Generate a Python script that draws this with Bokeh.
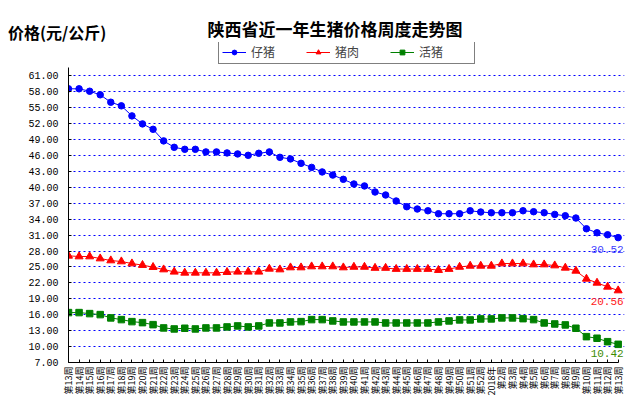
import math
from bokeh.plotting import figure
from bokeh.models import Range1d, FixedTicker, PrintfTickFormatter, Label, Legend, LegendItem, Div
from bokeh.layouts import column
from bokeh.embed import file_html
from bokeh.resources import INLINE

weeks = ["第13周", "第14周", "第15周", "第16周", "第17周", "第18周", "第19周", "第20周",
         "第21周", "第22周", "第23周", "第24周", "第25周", "第26周", "第27周", "第28周",
         "第29周", "第30周", "第31周", "第32周", "第33周", "第34周", "第35周", "第36周",
         "第37周", "第38周", "第39周", "第40周", "第41周", "第42周", "第43周", "第44周",
         "第45周", "第46周", "第47周", "第48周", "第49周", "第50周", "第51周", "第52周",
         "2018年", "第2周", "第3周", "第4周", "第5周", "第6周", "第7周", "第8周",
         "第9周", "第10周", "第11周", "第12周", "第13周"]

piglet = [58.55, 58.55, 58.09, 57.42, 56.02, 55.34, 53.45, 51.94, 50.92, 48.74,
          47.53, 47.15, 47.15, 46.66, 46.66, 46.47, 46.28, 46.02, 46.40, 46.66,
          45.64, 45.34, 44.51, 43.75, 42.89, 42.30, 41.50, 40.62, 40.25, 39.11,
          38.55, 37.42, 36.34, 35.91, 35.58, 35.02, 35.02, 35.02, 35.58, 35.34,
          35.21, 35.21, 35.21, 35.58, 35.40, 35.21, 34.89, 34.64, 34.21, 32.19,
          31.43, 31.06, 30.52]

pork = [27.09, 26.96, 26.96, 26.58, 26.21, 26.02, 25.64, 25.34, 24.96, 24.51,
        24.08, 23.89, 23.89, 23.89, 23.89, 24.02, 24.08, 24.08, 24.08, 24.64,
        24.51, 24.89, 24.89, 25.08, 25.08, 25.08, 24.89, 25.00, 25.00, 24.80,
        24.80, 24.60, 24.60, 24.60, 24.60, 24.40, 24.60, 25.00, 25.20, 25.20,
        25.20, 25.64, 25.64, 25.64, 25.45, 25.45, 25.26, 24.83, 24.26, 22.75,
        22.00, 21.25, 20.56]

live = [16.40, 16.40, 16.21, 16.02, 15.40, 15.08, 14.70, 14.51, 14.13, 13.51,
        13.32, 13.45, 13.32, 13.51, 13.51, 13.70, 13.89, 13.70, 13.89, 14.45,
        14.45, 14.64, 14.70, 15.08, 15.08, 14.83, 14.64, 14.64, 14.64, 14.64,
        14.45, 14.45, 14.45, 14.45, 14.45, 14.64, 14.83, 15.02, 15.02, 15.21,
        15.21, 15.40, 15.40, 15.26, 15.08, 14.45, 14.26, 14.08, 13.45, 11.87,
        11.57, 10.92, 10.42]

series_names = ["仔猪", "猪肉", "活猪"]
y_ticks = [7, 10, 13, 16, 19, 22, 25, 28, 31, 34, 37, 40, 43, 46, 49, 52, 55, 58, 61]
chart_title = "陕西省近一年生猪价格周度走势图"
y_title = "价格(元/公斤)"

x = list(range(len(weeks)))
n = len(weeks)

font_css = "font-family:'Noto Sans CJK SC';font-weight:bold;color:black;white-space:nowrap;"
header = Div(
    text=(
        '<div style="position:relative;width:632px;height:42px;overflow:visible;">'
        '<span style="position:absolute;left:8px;top:24px;font-size:16px;line-height:16px;'
        + font_css + '">' + y_title + '</span>'
        '<span style="position:absolute;left:135px;top:20px;width:400px;text-align:center;'
        'font-size:17px;line-height:17px;' + font_css + '">' + chart_title + '</span></div>'
    ),
    width=632, height=42, margin=0,
)

p = figure(width=632, height=368, output_backend="svg", toolbar_location=None,
           x_range=Range1d(0, n - 1 + 0.6), y_range=Range1d(7, 67.27),
           min_border_left=68, min_border_right=8, min_border_top=0, min_border_bottom=48,
           margin=0)
p.outline_line_color = None
p.background_fill_color = "white"
p.border_fill_color = "white"

p.xgrid.grid_line_color = None
p.ygrid.grid_line_color = "#0000FF"
p.ygrid.grid_line_dash = "2 3"
p.ygrid.grid_line_width = 1
p.ygrid.ticker = FixedTicker(ticks=y_ticks[1:])

xa = p.xaxis[0]
xa.ticker = FixedTicker(ticks=x)
xa.bounds = (0, n - 1)
xa.major_label_overrides = {i: w for i, w in enumerate(weeks)}
xa.major_label_orientation = math.pi / 2
xa.major_label_text_font = "Noto Sans CJK SC"
xa.major_label_text_font_size = "9px"
xa.major_label_text_color = "black"
xa.major_label_standoff = 4
xa.major_tick_in = 3
xa.major_tick_out = 0
xa.minor_tick_line_color = None
xa.axis_line_color = "black"
xa.major_tick_line_color = "black"

ya = p.yaxis[0]
ya.ticker = FixedTicker(ticks=y_ticks)
ya.bounds = (7, 62.56)
ya.formatter = PrintfTickFormatter(format="%.2f")
ya.major_label_text_font = "Liberation Mono"
ya.major_label_text_font_size = "10px"
ya.major_label_text_color = "black"
ya.major_label_standoff = 10
ya.major_tick_in = 3
ya.major_tick_out = 0
ya.minor_tick_line_color = None
ya.axis_line_color = "black"
ya.major_tick_line_color = "black"

l1 = p.line(x, piglet, line_color="#0000FF", line_width=1)
s1 = p.scatter(x, piglet, marker="circle", size=6.5, fill_color="#0000FF", line_color="#0000FF")
l2 = p.line(x, pork, line_color="#FF0000", line_width=1)
s2 = p.scatter(x, pork, marker="triangle", size=8, fill_color="#FF0000", line_color="#FF0000")
l3 = p.line(x, live, line_color="#008000", line_width=1)
s3 = p.scatter(x, live, marker="square", size=6.5, fill_color="#008000", line_color="#008000")

legend = Legend(items=[LegendItem(label=series_names[0], renderers=[l1, s1]),
                       LegendItem(label=series_names[1], renderers=[l2, s2]),
                       LegendItem(label=series_names[2], renderers=[l3, s3])],
                orientation="horizontal", location=(150, 298))
legend.label_text_font = "Noto Sans CJK SC"
legend.label_text_font_size = "12px"
legend.glyph_width = 24
legend.glyph_height = 12
legend.label_height = 12
legend.label_standoff = 5
legend.label_width = 52
legend.spacing = 3
legend.padding = 3
legend.margin = 0
legend.border_line_color = "black"
legend.border_line_width = 1
legend.background_fill_alpha = 1
p.add_layout(legend)

end_colors = ["#3d3dff", "#ff2020", "#3c8c00"]
end_offsets = [-12, -11, -9.5]
for vals, col, off in zip([piglet, pork, live], end_colors, end_offsets):
    p.add_layout(Label(x=x[-1], y=vals[-1], text=f"{vals[-1]:.2f}", x_offset=-11, y_offset=off,
                       text_align="center", text_baseline="middle",
                       text_font="Liberation Mono", text_font_size="11px", text_color=col))

layout = column(header, p, spacing=0, margin=0)
open("out.html", "w").write(file_html(layout, INLINE))
